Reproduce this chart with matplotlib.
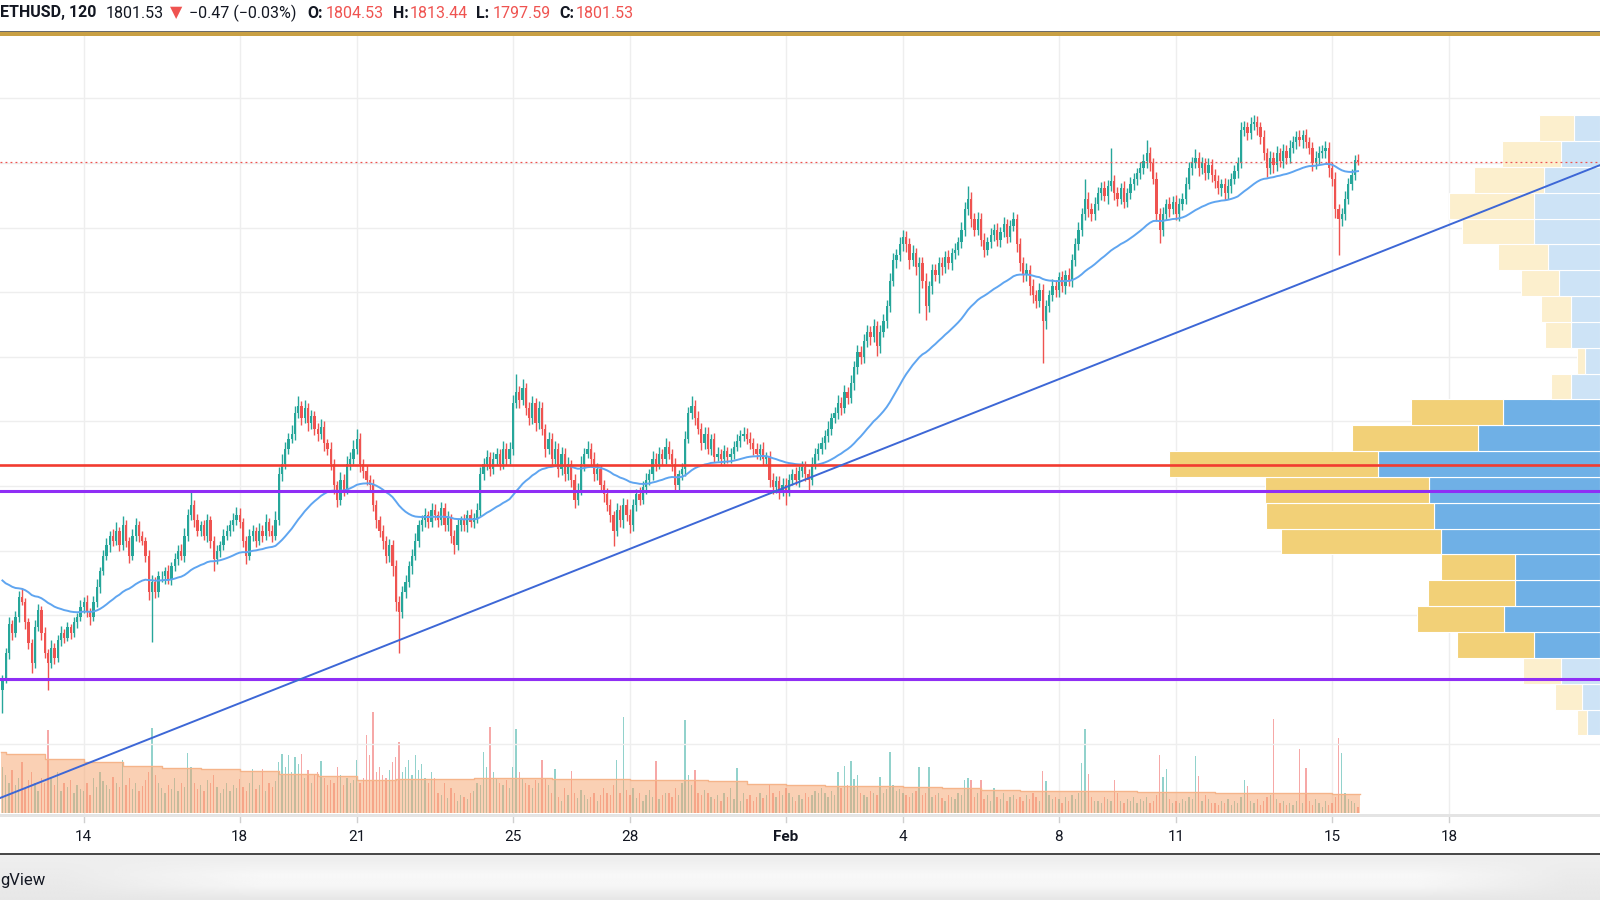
import numpy as np
import pandas as pd
import matplotlib.pyplot as plt
from matplotlib import transforms
from matplotlib.patches import Rectangle

# ETHUSD, 2h candles from Jan 11 22:00 to Feb 15 16:00
# x axis is "day of January" (Feb 1 = 32)
first_time = 11 + 22 / 24
bar_days = 2 / 24
first_open = 985

closes = [
    1002,  # Jan 11 22:00
    1042, 1086, 1073, 1097, 1128, 1121, 1089, 1057, 1026, 1081, 1108, 1073,  # Jan 12
    1042, 1026, 1050, 1034, 1061, 1073, 1065, 1081, 1073, 1089, 1097, 1113,  # Jan 13
    1121, 1105, 1097, 1121, 1144, 1168, 1192, 1208, 1223, 1215, 1231, 1208,  # Jan 14
    1239, 1215, 1192, 1223, 1239, 1223, 1215, 1192, 1136, 1152, 1136, 1160,  # Jan 15
    1160, 1168, 1155, 1176, 1187, 1200, 1192, 1223, 1255, 1271, 1247, 1231,  # Jan 16
    1239, 1223, 1247, 1215, 1187, 1200, 1208, 1223, 1231, 1239, 1247, 1255,  # Jan 17
    1244, 1215, 1192, 1223, 1231, 1215, 1231, 1223, 1244, 1231, 1223, 1247,  # Jan 18
    1318, 1334, 1358, 1373, 1381, 1413, 1424, 1405, 1421, 1397, 1408, 1389,  # Jan 19
    1381, 1392, 1366, 1358, 1334, 1302, 1279, 1310, 1294, 1334, 1342, 1358,  # Jan 20
    1373, 1334, 1323, 1310, 1302, 1271, 1247, 1231, 1215, 1192, 1208, 1176,  # Jan 21
    1121, 1105, 1136, 1152, 1176, 1192, 1215, 1239, 1247, 1255, 1244, 1263,  # Jan 22
    1255, 1247, 1266, 1239, 1250, 1223, 1208, 1239, 1247, 1239, 1255, 1244,  # Jan 23
    1250, 1263, 1318, 1334, 1345, 1326, 1342, 1350, 1334, 1358, 1342, 1358,  # Jan 24
    1429, 1445, 1433, 1452, 1421, 1405, 1429, 1397, 1421, 1389, 1358, 1373,  # Jan 25
    1342, 1358, 1326, 1350, 1318, 1334, 1310, 1279, 1294, 1334, 1350, 1358,  # Jan 26
    1342, 1318, 1326, 1302, 1287, 1271, 1255, 1231, 1263, 1247, 1271, 1255,  # Jan 27
    1239, 1271, 1287, 1279, 1298, 1310, 1318, 1342, 1334, 1350, 1342, 1361,  # Jan 28
    1350, 1334, 1302, 1318, 1326, 1373, 1413, 1424, 1405, 1389, 1366, 1381,  # Jan 29
    1358, 1373, 1345, 1350, 1342, 1354, 1345, 1350, 1361, 1370, 1377, 1381,  # Jan 30
    1373, 1366, 1358, 1350, 1358, 1342, 1345, 1310, 1298, 1307, 1294, 1302,  # Jan 31
    1294, 1310, 1318, 1310, 1323, 1329, 1318, 1310, 1334, 1350, 1358, 1366,  # Feb 1
    1377, 1389, 1405, 1413, 1429, 1421, 1445, 1437, 1460, 1484, 1508, 1500,  # Feb 2
    1524, 1539, 1531, 1547, 1516, 1539, 1555, 1579, 1618, 1650, 1658, 1674,  # Feb 3
    1686, 1674, 1650, 1661, 1639, 1645, 1618, 1579, 1610, 1634, 1626, 1645,  # Feb 4
    1639, 1655, 1645, 1661, 1666, 1677, 1697, 1729, 1745, 1713, 1697, 1713,  # Feb 5
    1681, 1666, 1677, 1689, 1697, 1681, 1693, 1705, 1686, 1702, 1713, 1674,  # Feb 6
    1645, 1626, 1634, 1610, 1595, 1587, 1603, 1555, 1579, 1595, 1610, 1603,  # Feb 7
    1623, 1610, 1626, 1618, 1650, 1674, 1697, 1721, 1745, 1729, 1721, 1737,  # Feb 8
    1753, 1761, 1749, 1765, 1772, 1753, 1745, 1761, 1740, 1753, 1768, 1776,  # Feb 9
    1784, 1792, 1803, 1816, 1800, 1776, 1721, 1697, 1721, 1737, 1729, 1740,  # Feb 10
    1721, 1737, 1745, 1768, 1792, 1800, 1808, 1792, 1800, 1784, 1797, 1781,  # Feb 11
    1772, 1761, 1768, 1753, 1765, 1776, 1787, 1800, 1851, 1855, 1847, 1860,  # Feb 12
    1863, 1855, 1840, 1816, 1792, 1808, 1797, 1816, 1803, 1819, 1808, 1824,  # Feb 13
    1832, 1840, 1835, 1843, 1832, 1824, 1800, 1808, 1816, 1819, 1824, 1792,  # Feb 14
    1776, 1729, 1713, 1721, 1745, 1768, 1781, 1804.53, 1801.53,              # Feb 15
]

up_wick = [
    6,
    8, 12, 6, 10, 9, 14, 5, 7, 6, 11, 9, 6,
    9, 6, 11, 7, 8, 10, 6, 9, 5, 8, 7, 10,
    7, 10, 6, 8, 12, 7, 9, 11, 8, 10, 13, 6,
    14, 9, 6, 11, 12, 7, 8, 6, 9, 10, 7, 8,
    8, 7, 10, 6, 9, 8, 11, 12, 9, 20, 7, 9,
    7, 9, 10, 6, 8, 9, 7, 10, 8, 9, 11, 12,
    11, 7, 8, 10, 9, 6, 11, 8, 12, 7, 9, 14,
    12, 15, 10, 9, 14, 11, 15, 8, 12, 7, 10, 8,
    9, 12, 8, 7, 10, 8, 6, 11, 9, 12, 10, 14,
    15, 9, 8, 10, 7, 9, 8, 6, 9, 7, 10, 8,
    10, 8, 9, 11, 8, 10, 12, 9, 8, 11, 7, 10,
    9, 7, 10, 8, 11, 6, 9, 10, 7, 9, 8, 10,
    8, 10, 12, 9, 11, 8, 10, 9, 7, 12, 8, 10,
    12, 29, 10, 14, 8, 9, 11, 8, 10, 9, 7, 10,
    9, 12, 8, 10, 9, 11, 7, 8, 10, 12, 9, 11,
    8, 10, 9, 7, 8, 10, 9, 7, 11, 8, 10, 9,
    10, 9, 8, 11, 9, 10, 8, 12, 9, 11, 8, 13,
    9, 8, 10, 7, 9, 12, 10, 15, 9, 11, 8, 10,
    10, 8, 9, 11, 8, 10, 7, 9, 8, 10, 9, 11,
    9, 10, 8, 9, 7, 10, 8, 9, 10, 8, 9, 10,
    10, 8, 9, 11, 8, 9, 10, 8, 11, 9, 8, 10,
    9, 11, 8, 10, 12, 9, 11, 8, 12, 10, 11, 9,
    12, 10, 9, 11, 8, 10, 12, 9, 11, 10, 9, 12,
    11, 9, 10, 12, 8, 10, 9, 11, 8, 10, 9, 10,
    10, 9, 11, 8, 10, 9, 12, 11, 19, 10, 9, 11,
    9, 10, 8, 11, 9, 10, 8, 12, 9, 10, 11, 8,
    10, 9, 11, 8, 10, 9, 11, 10, 9, 8, 10, 9,
    9, 10, 8, 11, 9, 10, 12, 9, 31, 10, 9, 11,
    10, 9, 11, 8, 52, 9, 10, 8, 11, 9, 10, 8,
    9, 10, 11, 20, 9, 8, 10, 9, 11, 8, 10, 9,
    10, 9, 8, 11, 9, 10, 14, 9, 10, 8, 11, 9,
    9, 10, 8, 9, 11, 8, 10, 9, 12, 10, 9, 11,
    12, 10, 9, 11, 8, 10, 9, 11, 8, 10, 9, 11,
    10, 9, 11, 8, 10, 9, 8, 10, 11, 9, 10, 9,
    9, 10, 8, 9, 11, 9, 10, 8, 8.91,
]

dn_wick = [
    37,
    7, 9, 12, 6, 8, 5, 10, 9, 16, 7, 6, 11,
    8, 41, 7, 10, 6, 9, 8, 5, 10, 7, 9, 6,
    10, 7, 12, 6, 8, 9, 5, 7, 10, 8, 6, 9,
    7, 9, 11, 6, 8, 10, 7, 9, 12, 77, 10, 8,
    9, 11, 6, 8, 7, 10, 6, 9, 8, 7, 11, 9,
    8, 7, 9, 11, 19, 8, 10, 7, 6, 9, 8, 7,
    9, 10, 12, 6, 8, 9, 7, 10, 6, 8, 9, 7,
    8, 10, 7, 9, 6, 10, 8, 11, 7, 12, 9, 10,
    11, 8, 12, 10, 9, 14, 12, 8, 10, 7, 9, 8,
    9, 12, 10, 8, 11, 9, 12, 10, 13, 11, 9, 16,
    14, 63, 9, 10, 8, 12, 7, 9, 8, 10, 9, 7,
    8, 10, 7, 9, 8, 11, 14, 7, 9, 8, 10, 7,
    9, 7, 10, 8, 9, 11, 8, 10, 9, 7, 10, 8,
    10, 9, 12, 8, 11, 10, 9, 12, 8, 10, 13, 9,
    10, 8, 12, 9, 10, 8, 11, 13, 9, 8, 10, 7,
    9, 11, 8, 10, 12, 9, 11, 24, 8, 10, 12, 9,
    12, 8, 10, 9, 7, 10, 9, 8, 10, 7, 9, 8,
    8, 10, 12, 9, 8, 10, 7, 9, 11, 8, 10, 9,
    9, 10, 8, 7, 9, 8, 10, 9, 8, 7, 9, 8,
    8, 9, 10, 8, 9, 10, 8, 12, 10, 9, 14, 10,
    23, 10, 9, 8, 12, 9, 10, 18, 9, 8, 10, 9,
    8, 9, 10, 8, 9, 11, 8, 10, 9, 12, 10, 11,
    10, 9, 12, 8, 14, 10, 9, 11, 10, 8, 12, 9,
    10, 12, 14, 10, 12, 71, 11, 22, 10, 12, 9, 11,
    12, 10, 9, 11, 10, 9, 8, 10, 9, 12, 10, 9,
    10, 12, 9, 8, 10, 9, 11, 8, 10, 9, 8, 12,
    12, 10, 9, 14, 11, 12, 10, 65, 12, 10, 9, 11,
    10, 9, 12, 8, 10, 9, 8, 10, 9, 12, 10, 9,
    9, 10, 8, 12, 9, 10, 11, 9, 10, 8, 9, 10,
    10, 8, 9, 10, 12, 9, 11, 21, 10, 9, 12, 8,
    9, 11, 10, 8, 9, 10, 8, 12, 9, 10, 8, 11,
    10, 9, 12, 10, 8, 11, 9, 10, 8, 9, 11, 10,
    9, 11, 10, 12, 14, 9, 12, 10, 9, 11, 10, 8,
    9, 10, 8, 11, 9, 10, 12, 9, 10, 8, 11, 14,
    12, 14, 55, 10, 9, 8, 10, 7, 3.94,
]

volume = [
    45,
    38, 30, 42, 28, 35, 50, 25, 33, 40, 30, 22, 35,
    30, 82, 35, 28, 40, 22, 30, 26, 33, 20, 28, 24,
    22, 30, 18, 35, 26, 40, 32, 28, 24, 36, 30, 26,
    52, 28, 35, 24, 30, 22, 27, 33, 40, 84, 38, 30,
    25, 20, 28, 24, 35, 22, 30, 26, 59, 45, 30, 24,
    28, 22, 33, 30, 38, 26, 20, 24, 30, 22, 28, 25,
    34, 26, 22, 30, 43, 24, 28, 43, 22, 30, 26, 32,
    50, 58, 45, 57, 40, 55, 48, 58, 35, 42, 30, 38,
    40, 51, 35, 28, 33, 30, 45, 38, 28, 35, 30, 33,
    52, 30, 35, 77, 57, 99, 40, 45, 38, 35, 42, 50,
    55, 70, 40, 45, 52, 38, 57, 42, 48, 35, 30, 40,
    35, 20, 18, 30, 15, 25, 20, 12, 18, 16, 14, 20,
    22, 30, 28, 60, 45, 85, 40, 35, 30, 28, 33, 25,
    45, 83, 40, 35, 30, 28, 25, 33, 30, 52, 35, 28,
    20, 43, 16, 12, 25, 18, 41, 20, 15, 23, 18, 14,
    16, 20, 12, 18, 25, 20, 18, 28, 52, 20, 94, 23,
    18, 25, 15, 20, 12, 18, 23, 16, 51, 14, 18, 20,
    20, 16, 25, 18, 30, 91, 38, 28, 42, 20, 18, 23,
    20, 16, 14, 18, 12, 20, 16, 25, 14, 44, 12, 20,
    14, 18, 12, 16, 20, 15, 18, 28, 20, 16, 22, 18,
    25, 20, 16, 12, 18, 14, 20, 16, 18, 22, 20, 25,
    20, 16, 22, 18, 40, 25, 46, 28, 51, 34, 38, 20,
    18, 16, 22, 20, 18, 36, 20, 24, 60, 28, 22, 24,
    20, 18, 16, 20, 22, 45, 18, 20, 45, 16, 18, 20,
    15, 12, 18, 16, 14, 20, 18, 33, 35, 33, 16, 20,
    33, 14, 18, 12, 25, 16, 14, 20, 12, 16, 18, 14,
    16, 12, 18, 14, 20, 16, 12, 41, 32, 18, 14, 16,
    14, 10, 16, 12, 18, 14, 20, 49, 83, 39, 16, 12,
    12, 10, 16, 14, 12, 33, 20, 12, 10, 14, 12, 16,
    10, 14, 12, 16, 10, 12, 18, 57, 36, 43, 14, 10,
    12, 10, 14, 12, 16, 14, 56, 37, 12, 18, 14, 10,
    10, 8, 12, 10, 14, 8, 12, 10, 16, 33, 27, 12,
    10, 14, 8, 12, 16, 18, 92, 14, 10, 12, 8, 10,
    8, 12, 63, 10, 44, 12, 8, 14, 10, 6, 12, 8,
    10, 16, 74, 59, 20, 14, 12, 10, 6,
]

# volume moving average, one value per day (Jan 11 .. Feb 15)
vol_ma_day = [11, 12, 13, 14, 15, 16, 17, 18, 19, 20, 21, 22, 23, 24, 25, 26, 27, 28,
              29, 30, 31, 32, 33, 34, 35, 36, 37, 38, 39, 40, 41, 42, 43, 44, 45, 46]
vol_ma = [60, 58, 53, 50, 46, 44, 43, 41, 39, 37, 33, 34, 34, 35, 35, 34, 34, 33,
          33, 32, 29, 28, 27, 27, 26, 25, 23, 22, 22, 22, 21, 21, 20, 20, 20, 19]

ema_seed = 1160
ema_span = 50

red_level = 1332
purple_levels = [1293, 1002]
last_price = 1801.53
trend_a = (12, 820.5)
trend_b = (50, 1728.2)

# visible range volume profile, rows of 40 USD (bottom price of each row)
vp_low = [914, 954, 994, 1034, 1074, 1114, 1154, 1194, 1234, 1274, 1314, 1354,
          1394, 1434, 1474, 1514, 1554, 1594, 1634, 1674, 1714, 1754, 1794, 1834]
vp_up = [13, 18, 38, 65, 94, 83, 83, 156, 163, 168, 218, 120,
         95, 28, 15, 28, 28, 40, 51, 65, 65, 55, 38, 25]
vp_down = [10, 26, 37, 75, 85, 86, 73, 157, 164, 160, 204, 123,
           90, 20, 8, 26, 30, 37, 49, 70, 83, 68, 58, 35]
vp_row = 40
value_area = (1034, 1434)

tick_days = [14, 18, 21, 25, 28, 32, 35, 39, 42, 46, 49]
tick_labels = ['14', '18', '21', '25', '28', 'Feb', '4', '8', '11', '15', '18']

UP, DOWN = '#26a69a', '#ef5350'
W, H = 1600, 900


def fy(px):
    return 1 - px / H


plt.rcParams['font.family'] = ['Roboto', 'DejaVu Sans']
fig = plt.figure(figsize=(16, 9), dpi=100)
fig.patch.set_facecolor('white')

top_px, bot_px = 36, 814
rect = [0, fy(bot_px), 1, (bot_px - top_px) / H]
ax_vol = fig.add_axes(rect)
ax = fig.add_axes(rect)
ax.patch.set_alpha(0)
for a in (ax, ax_vol):
    a.set_xticks([])
    a.set_yticks([])
    for s in a.spines.values():
        s.set_visible(False)

n = len(closes)
t = first_time + np.arange(n) * bar_days
c = np.array(closes, dtype=float)
o = np.concatenate([[first_open], c[:-1]])
hi = np.maximum(o, c) + np.array(up_wick)
lo = np.minimum(o, c) - np.array(dn_wick)
col = np.where(c >= o, UP, DOWN)

# grid
for d in tick_days:
    ax_vol.axvline(d, color='#eeeeee', lw=1, zorder=0)
for p in range(900, 2000, 100):
    ax.axhline(p, color='#eeeeee', lw=1, zorder=0)

# volume pane
ax_vol.bar(t, volume, width=0.035, color=col, alpha=0.5, lw=0, zorder=1)
half = bar_days / 2
x_ma = np.clip(np.array(vol_ma_day, dtype=float), t[0] - half, None)
x_ma = np.append(x_ma, t[-1] + half)
y_ma = np.append(vol_ma, vol_ma[-1])
ax_vol.fill_between(x_ma, y_ma, step='post', color='#f7a36b', alpha=0.5, lw=0, zorder=2)
ax_vol.step(x_ma, y_ma, where='post', color='#f5b48a', lw=1, zorder=2)

# volume profile, anchored to the right edge
vp_scale = 1 / 1568
trans_vp = transforms.blended_transform_factory(ax.transAxes, ax.transData)
for low, u, dn in zip(vp_low, vp_up, vp_down):
    inside = value_area[0] <= low < value_area[1]
    cu = '#6fb0e6' if inside else '#cde3f6'
    cd = '#f2d077' if inside else '#fcefcd'
    ax.add_patch(Rectangle((1 - u * vp_scale, low), u * vp_scale, vp_row, transform=trans_vp,
                           facecolor=cu, edgecolor='white', lw=0.8, zorder=2))
    ax.add_patch(Rectangle((1 - (u + dn) * vp_scale, low), dn * vp_scale, vp_row,
                           transform=trans_vp, facecolor=cd, edgecolor='white', lw=0.8, zorder=2))

# candles
ax.vlines(t, lo, hi, colors=col, lw=1.0, zorder=3)
ax.bar(t, np.maximum(np.abs(c - o), 0.8), bottom=np.minimum(o, c), width=0.058,
       color=col, lw=0, zorder=4)

ema = pd.Series([ema_seed] + closes).ewm(span=ema_span, adjust=False).mean().to_numpy()[1:]
ax.plot(t, ema, color='#5fa5f0', lw=1.4, zorder=5)

# drawn levels
ax.axhline(last_price, color=DOWN, lw=0.9, ls=(0, (1.5, 2.5)), zorder=6)
ax.axhline(red_level, color='#f23b30', lw=1.9, zorder=6)
for p in purple_levels:
    ax.axhline(p, color='#8f2ef5', lw=2.2, zorder=6)
ax.axline(trend_a, trend_b, color='#3d67d6', lw=1.4, zorder=6)

ax.set_xlim(11.855, 52.87)
ax.set_ylim(792.3, 1996.6)
ax_vol.set_xlim(11.855, 52.87)
ax_vol.set_ylim(-0.7, 762)

# time axis
fig.add_artist(Rectangle((0, fy(817)), 1, 3 / H, transform=fig.transFigure,
                         facecolor='#e4e4e4', lw=0))
trans_x = transforms.blended_transform_factory(ax.transData, fig.transFigure)
for d, lab in zip(tick_days, tick_labels):
    ax.plot([d, d], [fy(817), fy(822)], transform=trans_x, color='#cfcfcf', lw=1, clip_on=False)
    ax.text(d, fy(837), lab, transform=trans_x, ha='center', va='center', fontsize=11,
            color='#131722', fontweight='bold' if lab == 'Feb' else 'normal', clip_on=False)

fig.add_artist(Rectangle((0, fy(855)), 1, 2 / H, transform=fig.transFigure,
                         facecolor='#4a4a4a', lw=0))

# light grey footer with a soft white card in the middle
ax_bg = fig.add_axes([0, 0, 1, fy(855)])
gx = np.linspace(0, W, 400)
gy = np.linspace(0, 1, 45)[:, None]
hx = np.clip((gx - 60) / 200, 0, 1) * np.clip((1570 - gx) / 150, 0, 1)
card = hx[None, :] * np.clip((gy - 0.1) / 0.35, 0, 1) * np.clip((1.0 - gy) / 0.3, 0, 1)
grad = 0.935 - 0.03 * gy + 0.05 * card
ax_bg.imshow(grad, cmap='gray', vmin=0, vmax=1, aspect='auto', extent=[0, 1, 0, 1])
ax_bg.axis('off')
fig.text(0, fy(880), 'gView', ha='left', va='center', fontsize=12, color='#131722')

# header
fig.add_artist(Rectangle((0, fy(32)), 1, 1 / H, transform=fig.transFigure,
                         facecolor='#6b6b6b', lw=0))
fig.add_artist(Rectangle((0, fy(35.5)), 1, 3.5 / H, transform=fig.transFigure,
                         facecolor='#c9a044', lw=0))
o_last, c_last, h_last, l_last = o[-1], c[-1], hi[-1], lo[-1]
hy = fy(13)
hdr = [
    (0, 'ETHUSD, 120', '#131722', 'bold'),
    (106, f'{c_last:.2f}', '#131722', 'normal'),
    (170, '▼', DOWN, 'normal'),
    (189, '−0.47 (−0.03%)', '#131722', 'normal'),
    (307, 'O:', '#131722', 'bold'),
    (326, f'{o_last:.2f}', DOWN, 'normal'),
    (393, 'H:', '#131722', 'bold'),
    (410, f'{h_last:.2f}', DOWN, 'normal'),
    (476, 'L:', '#131722', 'bold'),
    (493, f'{l_last:.2f}', DOWN, 'normal'),
    (559, 'C:', '#131722', 'bold'),
    (576, f'{c_last:.2f}', DOWN, 'normal'),
]
for x, s, color, w in hdr:
    fig.text(x / W, hy, s, ha='left', va='center', fontsize=11.5, color=color, fontweight=w)

fig.savefig('out.png', dpi=100)
